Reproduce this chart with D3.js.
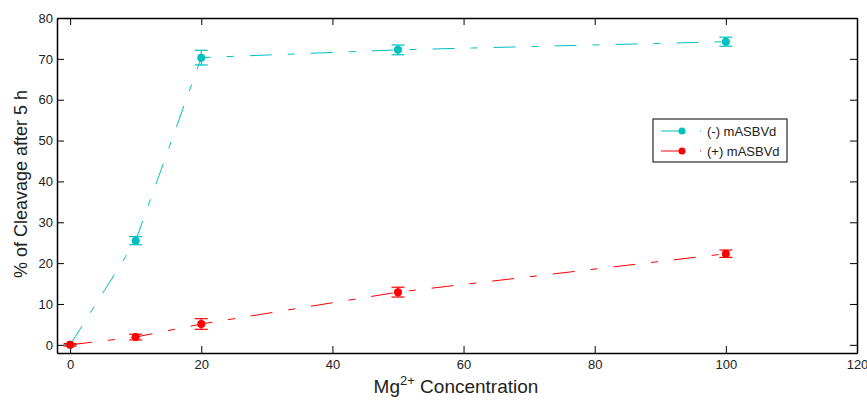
<!DOCTYPE html>
<html>
<head>
<meta charset="utf-8">
<script src="https://cdn.jsdelivr.net/npm/d3@7"></script>
<style>
	body { margin: 0; background: #fff; }
	svg text { font-family: "Liberation Sans", Arial, Helvetica, sans-serif; fill: #222; }
</style>
</head>
<body>
<div id="chart"></div>
<script>
// data
var concentrations = [0, 10, 20, 50, 100];
var minusValues = [0, 25.5, 70.3, 72.2, 74.2];
var minusErrors = [0, 1.0, 1.8, 1.2, 1.1];
var plusValues = [0, 1.9, 5.1, 12.9, 22.3];
var plusErrors = [0.3, 0.7, 1.3, 1.2, 0.9];
var xTicks = [0, 20, 40, 60, 80, 100, 120];
var yTicks = [0, 10, 20, 30, 40, 50, 60, 70, 80];
var seriesNames = ["(-) mASBVd", "(+) mASBVd"];
var seriesColors = ["#00bfbf", "#ff0000"];

var w = 867;
var h = 403;
var margin = {top: 18, right: 10, bottom: 50, left: 57},
    width = w - margin.left - margin.right,
    height = h - margin.top - margin.bottom;

var svg = d3.select("#chart").append("svg").attr("width", w).attr("height", h),
    g = svg.append("g").attr("transform", "translate(" + margin.left + "," + margin.top + ")");

var x = d3.scaleLinear().domain([-2, 120]).range([0, width]),
    y = d3.scaleLinear().domain([-2, 80]).range([height, 0]);

var tickLen = 7;

// axes: ticks inside, box all round like matlab
g.append("g")
	.attr("class", "axis axis--x")
	.attr("transform", "translate(0," + height + ")")
	.call(d3.axisBottom(x).tickValues(xTicks).tickSizeInner(-tickLen).tickSizeOuter(0).tickPadding(7));

g.append("g")
	.attr("class", "axis axis--top")
	.call(d3.axisTop(x).tickValues(xTicks).tickSizeInner(-tickLen).tickSizeOuter(0).tickFormat(""));

g.append("g")
	.attr("class", "axis axis--y")
	.call(d3.axisLeft(y).tickValues(yTicks).tickSizeInner(-tickLen).tickSizeOuter(0).tickPadding(4));

g.append("g")
	.attr("class", "axis axis--right")
	.attr("transform", "translate(" + width + ",0)")
	.call(d3.axisRight(y).tickValues(yTicks).tickSizeInner(-tickLen).tickSizeOuter(0).tickFormat(""));

g.selectAll(".axis path").attr("stroke", "#000").attr("stroke-width", 1.5);
g.selectAll(".axis line").attr("stroke", "#000");
g.selectAll(".axis text").attr("font-size", 13).attr("fill", "#222")
	.style("font-family", "'Liberation Sans', Arial, sans-serif");

var series = [
	{name: seriesNames[0], color: seriesColors[0], values: minusValues, errors: minusErrors},
	{name: seriesNames[1], color: seriesColors[1], values: plusValues, errors: plusErrors}
];

var line = d3.line()
	.x(function(d) { return x(d.c); })
	.y(function(d) { return y(d.v); });

series.forEach(function(s){
	var pts = concentrations.map(function(c, i){ return {c: c, v: s.values[i], e: s.errors[i]}; });

	g.append("path")
		.datum(pts)
		.attr("fill", "none")
		.attr("stroke", s.color)
		.attr("stroke-width", 1)
		.attr("stroke-dasharray", "22,16,7,16")
		.attr("d", line);

	var eb = g.append("g").selectAll(".err")
		.data(pts)
		.enter()
		.append("g")
		.attr("class", "err");

	eb.append("line")
		.attr("x1", function(d){ return x(d.c); })
		.attr("x2", function(d){ return x(d.c); })
		.attr("y1", function(d){ return y(d.v - d.e); })
		.attr("y2", function(d){ return y(d.v + d.e); })
		.attr("stroke", s.color).attr("stroke-width", 1.2);
	[-1, 1].forEach(function(sign){
		eb.append("line")
			.attr("x1", function(d){ return x(d.c) - 6.5; })
			.attr("x2", function(d){ return x(d.c) + 6.5; })
			.attr("y1", function(d){ return y(d.v + sign * d.e); })
			.attr("y2", function(d){ return y(d.v + sign * d.e); })
			.attr("stroke", s.color).attr("stroke-width", 1.2);
	});

	g.append("g").selectAll("circle")
		.data(pts)
		.enter()
		.append("circle")
		.attr("cx", function(d){ return x(d.c); })
		.attr("cy", function(d){ return y(d.v); })
		.attr("r", 4)
		.attr("fill", s.color);
});

// legend
var legend = svg.append("g").attr("transform", "translate(653,119)");
legend.append("rect")
	.attr("width", 134).attr("height", 43)
	.attr("fill", "#fff").attr("stroke", "#000").attr("stroke-width", 1);

series.forEach(function(s, i){
	var ly = 12 + i * 20;
	legend.append("line")
		.attr("x1", 8).attr("x2", 30).attr("y1", ly).attr("y2", ly)
		.attr("stroke", s.color).attr("stroke-width", 1);
	legend.append("circle")
		.attr("cx", 29).attr("cy", ly).attr("r", 3.5).attr("fill", s.color);
	legend.append("line")
		.attr("x1", 47).attr("x2", 48).attr("y1", ly).attr("y2", ly)
		.attr("stroke", s.color).attr("stroke-width", 1);
	legend.append("text")
		.attr("x", 54).attr("y", ly + 4.5)
		.attr("font-size", 13)
		.text(s.name);
});

// axis titles
var xl = svg.append("text")
	.attr("x", 456)
	.attr("y", 393)
	.attr("text-anchor", "middle")
	.attr("font-size", 19);
xl.append("tspan").text("Mg");
xl.append("tspan").attr("dy", -8).attr("font-size", 13).text("2+");
xl.append("tspan").attr("dy", 8).text(" Concentration");

svg.append("text")
	.attr("transform", "translate(27,184) rotate(-90)")
	.attr("text-anchor", "middle")
	.attr("font-size", 18)
	.text("% of Cleavage after 5 h");
</script>
</body>
</html>
